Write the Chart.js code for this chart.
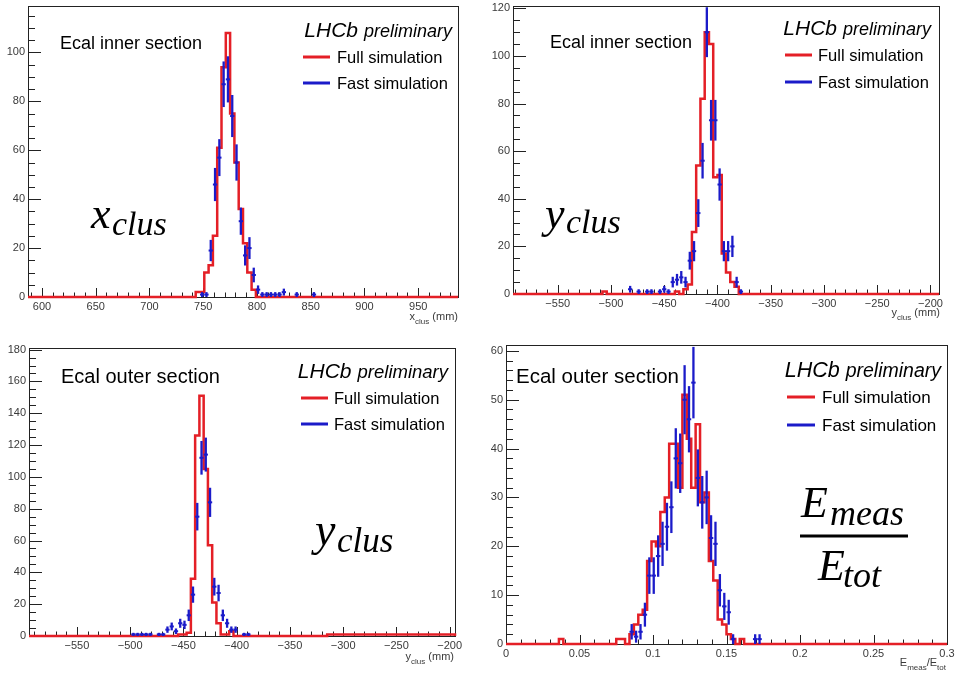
<!DOCTYPE html>
<html>
<head>
<meta charset="utf-8">
<script src="https://cdn.jsdelivr.net/npm/chart.js@4.4.1/dist/chart.umd.min.js"></script>
<style>
  body { margin: 0; background: #fff; }
  #wrap { position: relative; width: 956px; height: 673px; overflow: hidden; }
  canvas { position: absolute; }
</style>
</head>
<body>
<div id="wrap">
  <canvas id="c1"></canvas>
  <canvas id="c2"></canvas>
  <canvas id="c3"></canvas>
  <canvas id="c4"></canvas>
</div>
<script>
// ---- data ----
// inner section, x_clus (mm), bins of 4 mm
const innerXRange = [587, 987];
const innerXBinWidth = 4;
const innerXFullStart = 743;
const innerXFull = [2, 2, 10, 13, 25, 61, 94, 108, 75, 55, 36, 22, 10, 3];
const innerXFastBins = [749, 753, 757, 761, 765, 769, 773, 777, 781, 785, 789, 793, 797, 801, 805, 809, 813, 817, 821, 825, 837, 853];
const innerXFast = [1, 1, 19, 46, 57, 87, 89, 74, 55, 31, 17, 20, 9, 3, 1, 1, 1, 1, 1, 2, 1, 1];
const innerXTicks = [600, 650, 700, 750, 800, 850, 900, 950];
const innerXCountTicks = [0, 20, 40, 60, 80, 100];

// inner section, y_clus (mm)
const innerYRange = [-592, -192];
const innerYBinWidth = 4;
const innerYFullStart = -508;
const innerYFull = [1, 0, 0, 0, 0, 0, 0, 0, 0, 0, 0, 0, 0, 0, 0, 0, 0, 1, 0, 2, 4, 26, 54, 82, 110, 105, 49, 50, 17, 9, 5, 3];
const innerYFastBins = [-482, -474, -466, -462, -454, -450, -446, -442, -438, -434, -430, -426, -422, -418, -414, -410, -406, -402, -398, -394, -390, -386, -382, -378];
const innerYFast = [2, 1, 1, 1, 1, 2, 1, 5, 6, 7, 5, 14, 18, 34, 56, 110, 73, 73, 46, 18, 18, 20, 5, 1];
const innerYTicks = [-550, -500, -450, -400, -350, -300, -250, -200];
const innerYCountTicks = [0, 20, 40, 60, 80, 100, 120];

// outer section, y_clus (mm)
const outerYRange = [-595, -195];
const outerYBinWidth = 4;
const outerYFullStart = -455;
const outerYFull = [1, 1, 2, 36, 126, 151, 105, 57, 21, 8, 1, 1, 3];
const outerYFullTailStart = -315;
const outerYFullTail = [1, 1, 1, 1, 1, 1, 1, 1, 1, 1, 1, 1, 1, 1, 1, 1, 1, 1, 1, 1, 1, 1, 1, 1, 1, 1, 1, 1, 1, 1];
const outerYFastBins = [-497, -493, -489, -485, -481, -473, -469, -465, -461, -457, -453, -449, -445, -441, -437, -433, -429, -425, -421, -417, -413, -409, -405, -401, -393, -389];
const outerYFast = [1, 1, 1, 1, 1, 1, 1, 4, 6, 3, 8, 7, 13, 26, 75, 112, 114, 84, 31, 27, 13, 8, 4, 4, 1, 1];
const outerYTicks = [-550, -500, -450, -400, -350, -300, -250, -200];
const outerYCountTicks = [0, 20, 40, 60, 80, 100, 120, 140, 160, 180];

// outer section, E_meas / E_tot
const energyRange = [0, 0.3];
const energyBinWidth = 0.003;
const energyFullStart = 0.036;
const energyFull = [1, 0, 0, 0, 0, 0, 0, 0, 0, 0, 0, 0, 0, 1, 1, 0, 2, 4, 6, 7, 17, 21, 20, 27, 30, 41, 41, 32, 51, 42, 32, 45, 29, 31, 17, 13, 5, 4, 2, 1, 0, 1];
const energyFastBins = [0.0855, 0.0885, 0.0915, 0.0945, 0.0975, 0.1005, 0.1035, 0.1065, 0.1095, 0.1125, 0.1155, 0.1185, 0.1215, 0.1245, 0.1275, 0.1305, 0.1335, 0.1365, 0.1395, 0.1425, 0.1455, 0.1485, 0.1515, 0.1545, 0.1695, 0.1725];
const energyFast = [2.5, 1.5, 2.5, 6, 14, 14, 18, 20.5, 24, 28, 38, 37, 50, 46, 53.5, 34, 29, 30, 21.7, 20.5, 11, 7.7, 6.5, 1, 1, 1];
const energyTicks = [0, 0.05, 0.1, 0.15, 0.2, 0.25, 0.3];
const energyCountTicks = [0, 10, 20, 30, 40, 50, 60];

// ---- styling ----
const RED = '#e41f26';
const BLUE = '#1b1bc9';
const INK = '#222';
const LABEL = '#3a3a3a';
const SANS = '"Liberation Sans", Arial, sans-serif';
const SERIF = '"Liberation Serif", "Times New Roman", serif';

const panels = [
  {
    id: 'c1', box: [0, 0, 478, 336], area: [28, 6, 458, 297],
    xRange: innerXRange, binWidth: innerXBinWidth,
    segments: [{ start: innerXFullStart, values: innerXFull }],
    fastBins: innerXFastBins, fast: innerXFast,
    xTicks: innerXTicks, yTicks: innerXCountTicks, yMax: 119,
    xMinor: 10, xMajorEvery: 5, yMinor: 5, yMajorEvery: 4,
    section: { text: 'Ecal inner section', x: 60, y: 49, size: 18 },
    lhcb: { right: 452, y: 37, big: 21, small: 18 },
    legend: { x1: 303, x2: 330, tx: 337, y: [57, 83], size: 16.5 },
    symbol: { main: 'x', sub: 'clus', x: 91, y: 228, subX: 112, subY: 235, size: 44, subSize: 34 },
    axisTitle: { parts: [['x', 0], ['clus', 1], [' (mm)', 0]], right: 458, y: 320 }
  },
  {
    id: 'c2', box: [478, 0, 478, 336], area: [513, 6, 939, 294],
    xRange: innerYRange, binWidth: innerYBinWidth,
    segments: [{ start: innerYFullStart, values: innerYFull }],
    fastBins: innerYFastBins, fast: innerYFast,
    xTicks: innerYTicks, yTicks: innerYCountTicks, yMax: 121,
    xMinor: 10, xMajorEvery: 5, yMinor: 5, yMajorEvery: 4,
    section: { text: 'Ecal inner section', x: 550, y: 48, size: 18 },
    lhcb: { right: 931, y: 35, big: 21, small: 18 },
    legend: { x1: 785, x2: 812, tx: 818, y: [55, 82], size: 16.5 },
    symbol: { main: 'y', sub: 'clus', x: 545, y: 228, subX: 566, subY: 233, size: 44, subSize: 34 },
    axisTitle: { parts: [['y', 0], ['clus', 1], [' (mm)', 0]], right: 940, y: 316 }
  },
  {
    id: 'c3', box: [0, 336, 478, 337], area: [29, 348, 455, 636],
    xRange: outerYRange, binWidth: outerYBinWidth,
    segments: [{ start: outerYFullStart, values: outerYFull }, { start: outerYFullTailStart, values: outerYFullTail }],
    fastBins: outerYFastBins, fast: outerYFast,
    xTicks: outerYTicks, yTicks: outerYCountTicks, yMax: 181,
    xMinor: 10, xMajorEvery: 5, yMinor: 5, yMajorEvery: 4,
    section: { text: 'Ecal outer section', x: 61, y: 383, size: 20 },
    lhcb: { right: 448, y: 378, big: 21, small: 18.5 },
    legend: { x1: 301, x2: 328, tx: 334, y: [398, 424], size: 16.5 },
    symbol: { main: 'y', sub: 'clus', x: 315, y: 545, subX: 337, subY: 552, size: 46, subSize: 35 },
    axisTitle: { parts: [['y', 0], ['clus', 1], [' (mm)', 0]], right: 454, y: 660 }
  },
  {
    id: 'c4', box: [478, 336, 478, 337], area: [506, 345, 947, 644],
    xRange: energyRange, binWidth: energyBinWidth,
    segments: [{ start: energyFullStart, values: energyFull }],
    fastBins: energyFastBins, fast: energyFast,
    xTicks: energyTicks, yTicks: energyCountTicks, yMax: 61.2,
    xMinor: 0.01, xMajorEvery: 5, yMinor: 2, yMajorEvery: 5,
    section: { text: 'Ecal outer section', x: 516, y: 383, size: 20.5 },
    lhcb: { right: 941, y: 377, big: 21.5, small: 19.5 },
    legend: { x1: 787, x2: 815, tx: 822, y: [397, 425], size: 17 },
    fraction: { top: ['E', 'meas'], bottom: ['E', 'tot'], x: 801, y: 517, subX: 830, subY: 525,
                barX: [800, 908], barY: 536, bx: 818, by: 580, bsubX: 843, bsubY: 587, size: 44, subSize: 36 },
    axisTitle: { parts: [['E', 0], ['meas', 1], ['/E', 0], ['tot', 1]], right: 946, y: 666 }
  }
];

// histogram outline: each value holds from its left bin edge to the next edge
function stepPoints(range, binWidth, segments) {
  const pts = [{ x: range[0], y: 0 }];
  segments.forEach(seg => {
    seg.values.forEach((v, k) => pts.push({ x: seg.start + k * binWidth, y: v }));
    pts.push({ x: seg.start + seg.values.length * binWidth, y: 0 });
  });
  pts.push({ x: range[1], y: 0 });
  return pts;
}

function line(ctx, x1, y1, x2, y2) {
  ctx.beginPath();
  ctx.moveTo(x1, y1);
  ctx.lineTo(x2, y2);
  ctx.stroke();
}

function partsWidth(ctx, parts, size, subSize) {
  let w = 0;
  parts.forEach(([t, sub]) => {
    ctx.font = (sub ? subSize : size) + 'px ' + SANS;
    w += ctx.measureText(t).width;
  });
  return w;
}

function makePanel(p) {
  const [cx, cy, cw, ch] = p.box;
  const [al, at, ar, ab] = p.area;
  const canvas = document.getElementById(p.id);
  canvas.width = cw;
  canvas.height = ch;
  canvas.style.left = cx + 'px';
  canvas.style.top = cy + 'px';

  const fullPts = stepPoints(p.xRange, p.binWidth, p.segments);
  const fastPts = p.fastBins.map((b, i) => ({ x: b, y: p.fast[i] }));

  const rootStyle = {
    id: 'rootStyle',
    beforeDatasetsDraw(chart) {
      const { ctx, chartArea: a, scales: { x, y } } = chart;
      ctx.save();
      ctx.strokeStyle = INK;
      ctx.lineWidth = 1;
      ctx.strokeRect(Math.round(a.left) + 0.5, Math.round(a.top) + 0.5,
        Math.round(a.right - a.left), Math.round(a.bottom - a.top));
      // ROOT-like ticks pointing into the frame
      const k0 = Math.ceil(p.xRange[0] / p.xMinor - 1e-9);
      const k1 = Math.floor(p.xRange[1] / p.xMinor + 1e-9);
      for (let k = k0; k <= k1; k++) {
        const px = Math.round(x.getPixelForValue(k * p.xMinor)) + 0.5;
        const len = (k % p.xMajorEvery === 0) ? 9 : 4.5;
        line(ctx, px, a.bottom, px, a.bottom - len);
      }
      const j1 = Math.floor(p.yMax / p.yMinor + 1e-9);
      for (let j = 0; j <= j1; j++) {
        const py = Math.round(y.getPixelForValue(j * p.yMinor)) + 0.5;
        const len = (j % p.yMajorEvery === 0) ? 13 : 7;
        line(ctx, a.left, py, a.left + len, py);
      }
      ctx.restore();
    },
    afterDatasetsDraw(chart) {
      const { ctx, chartArea: a, scales: { x, y } } = chart;
      const meta = chart.getDatasetMeta(1);
      ctx.save();
      ctx.beginPath();
      ctx.rect(a.left, a.top, a.right - a.left, a.bottom - a.top + 2);
      ctx.clip();
      ctx.strokeStyle = BLUE;
      meta.data.forEach((pt, i) => {
        const v = p.fast[i];
        const err = Math.sqrt(v);
        const xl = x.getPixelForValue(p.fastBins[i] - p.binWidth / 2);
        const xr = x.getPixelForValue(p.fastBins[i] + p.binWidth / 2);
        ctx.lineWidth = 2.3;
        line(ctx, pt.x, y.getPixelForValue(Math.max(v - err, 0)), pt.x, y.getPixelForValue(v + err));
        ctx.lineWidth = 2;
        line(ctx, xl, pt.y, xr, pt.y);
      });
      ctx.restore();
    },
    afterDraw(chart) {
      const ctx = chart.ctx;
      ctx.save();
      ctx.translate(-cx, -cy);
      ctx.fillStyle = '#000';
      ctx.textBaseline = 'alphabetic';
      ctx.textAlign = 'left';

      // section label
      ctx.font = p.section.size + 'px ' + SANS;
      ctx.fillText(p.section.text, p.section.x, p.section.y);

      // LHCb preliminary
      ctx.textAlign = 'right';
      ctx.font = 'italic ' + p.lhcb.small + 'px ' + SANS;
      const pw = ctx.measureText('preliminary').width;
      ctx.fillText('preliminary', p.lhcb.right, p.lhcb.y);
      ctx.font = 'italic ' + p.lhcb.big + 'px ' + SANS;
      ctx.fillText('LHCb', p.lhcb.right - pw - 6, p.lhcb.y);

      // legend
      ctx.textAlign = 'left';
      const lg = p.legend;
      [[RED, 'Full simulation'], [BLUE, 'Fast simulation']].forEach(([col, txt], i) => {
        ctx.strokeStyle = col;
        ctx.lineWidth = 3;
        line(ctx, lg.x1, lg.y[i], lg.x2, lg.y[i]);
        ctx.font = lg.size + 'px ' + SANS;
        ctx.fillText(txt, lg.tx, lg.y[i] + 6);
      });

      // big math symbol
      if (p.symbol) {
        const s = p.symbol;
        ctx.font = 'italic ' + s.size + 'px ' + SERIF;
        ctx.fillText(s.main, s.x, s.y);
        ctx.font = 'italic ' + s.subSize + 'px ' + SERIF;
        ctx.fillText(s.sub, s.subX, s.subY);
      }
      if (p.fraction) {
        const f = p.fraction;
        ctx.font = 'italic ' + f.size + 'px ' + SERIF;
        ctx.fillText(f.top[0], f.x, f.y);
        ctx.fillText(f.bottom[0], f.bx, f.by);
        ctx.font = 'italic ' + f.subSize + 'px ' + SERIF;
        ctx.fillText(f.top[1], f.subX, f.subY);
        ctx.fillText(f.bottom[1], f.bsubX, f.bsubY);
        ctx.fillRect(f.barX[0], f.barY - 1.5, f.barX[1] - f.barX[0], 3);
      }

      // x axis title, right aligned at the frame edge
      const t = p.axisTitle;
      const size = 11, subSize = 8;
      let xx = t.right - partsWidth(ctx, t.parts, size, subSize);
      ctx.fillStyle = LABEL;
      t.parts.forEach(([txt, sub]) => {
        ctx.font = (sub ? subSize : size) + 'px ' + SANS;
        ctx.fillText(txt, xx, t.y + (sub ? 4 : 0));
        xx += ctx.measureText(txt).width;
      });
      ctx.restore();
    }
  };

  const tickFont = { family: SANS, size: 11 };
  const fmt = v => String(v).replace('-', '\u2212');

  return new Chart(canvas.getContext('2d'), {
    type: 'scatter',
    data: {
      datasets: [
        {
          label: 'Full simulation',
          data: fullPts,
          showLine: true,
          stepped: 'before',
          borderColor: RED,
          borderWidth: 2.5,
          pointRadius: 0,
          clip: false
        },
        {
          label: 'Fast simulation',
          data: fastPts,
          showLine: false,
          pointRadius: 0,
          borderColor: BLUE
        }
      ]
    },
    options: {
      responsive: false,
      animation: false,
      events: [],
      layout: { padding: { left: 0, top: at - cy, right: cx + cw - ar, bottom: 0 } },
      plugins: { legend: { display: false }, tooltip: { enabled: false } },
      scales: {
        x: {
          type: 'linear',
          min: p.xRange[0],
          max: p.xRange[1],
          grid: { display: false, drawTicks: false },
          border: { display: false },
          ticks: { font: tickFont, color: LABEL, padding: 3, autoSkip: false, maxRotation: 0, callback: fmt },
          afterBuildTicks: s => { s.ticks = p.xTicks.map(v => ({ value: v })); },
          afterFit: s => { s.height = cy + ch - ab; s.paddingLeft = 0; s.paddingRight = 0; }
        },
        y: {
          type: 'linear',
          min: 0,
          max: p.yMax,
          grid: { display: false, drawTicks: false },
          border: { display: false },
          ticks: { font: tickFont, color: LABEL, padding: 3, autoSkip: false, callback: fmt },
          afterBuildTicks: s => { s.ticks = p.yTicks.map(v => ({ value: v })); },
          afterFit: s => { s.width = al - cx; s.paddingTop = 0; s.paddingBottom = 0; }
        }
      }
    },
    plugins: [rootStyle]
  });
}

panels.forEach(makePanel);
</script>
</body>
</html>
